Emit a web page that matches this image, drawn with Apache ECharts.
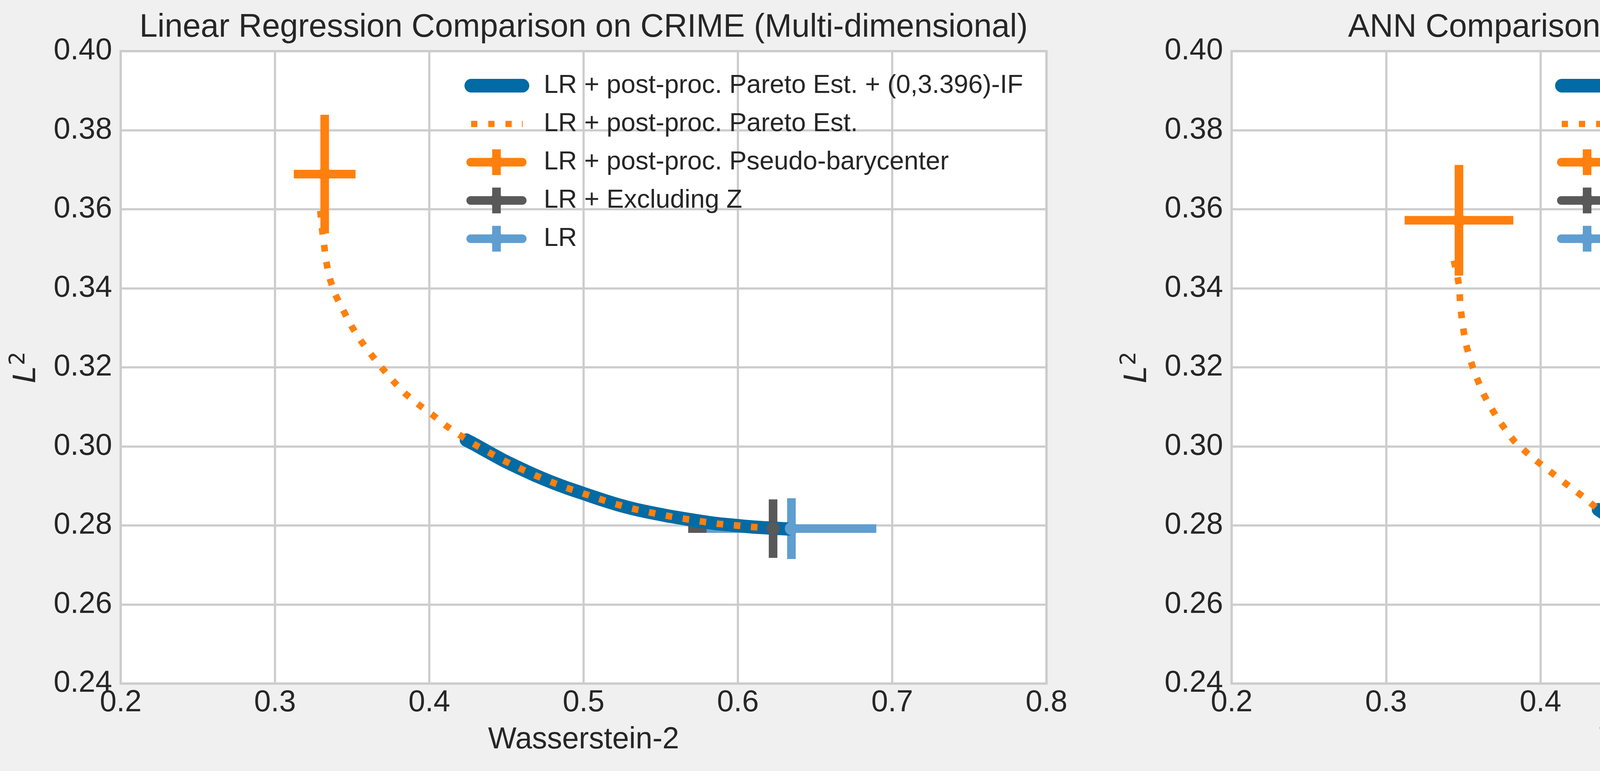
<!DOCTYPE html>
<html>
<head>
<meta charset="utf-8">
<script src="https://cdn.jsdelivr.net/npm/echarts@6.0.0/dist/echarts.min.js"></script>
<style>html,body{margin:0;padding:0;background:#f0f0f0;overflow:hidden;}#chart{width:5621px;height:1975px;}</style>
</head>
<body>
<div id="chart"></div>
<script>
// ---------------- data ----------------
const xTickRange = [0.2, 0.8, 0.1];
const yTickRange = [0.24, 0.40, 0.02];

// Linear regression panel
const lrIfX = [0.4240, 0.4294, 0.4390, 0.4489, 0.4590, 0.4691, 0.4790, 0.4899, 0.5005, 0.5111, 0.5218, 0.5324, 0.5430, 0.5547, 0.5653, 0.5765, 0.5876, 0.5987, 0.6099, 0.6228, 0.6330];
const lrIfY = [0.3016, 0.3005, 0.2984, 0.2963, 0.2944, 0.2926, 0.2910, 0.2894, 0.2880, 0.2866, 0.2853, 0.2842, 0.2833, 0.2824, 0.2817, 0.2810, 0.2804, 0.2800, 0.2796, 0.2793, 0.2791];
const lrParetoX = [0.3294, 0.3305, 0.3318, 0.3332, 0.3355, 0.3390, 0.3435, 0.3495, 0.3555, 0.3620, 0.3690, 0.3765, 0.3840, 0.3930, 0.4020, 0.4106, 0.4200, 0.4294, 0.4390, 0.4489, 0.4590, 0.4691, 0.4790, 0.4899, 0.5005, 0.5111, 0.5218, 0.5324, 0.5430, 0.5547, 0.5653, 0.5765, 0.5876, 0.5987, 0.6099, 0.6228];
const lrParetoY = [0.3596, 0.3550, 0.3510, 0.3468, 0.3425, 0.3385, 0.3350, 0.3305, 0.3268, 0.3234, 0.3200, 0.3166, 0.3135, 0.3106, 0.3080, 0.3053, 0.3028, 0.3005, 0.2984, 0.2963, 0.2944, 0.2926, 0.2910, 0.2894, 0.2880, 0.2866, 0.2853, 0.2842, 0.2833, 0.2824, 0.2817, 0.2810, 0.2804, 0.2800, 0.2796, 0.2793];
// [x, y, xerr, yerr]
const lrPseudo = [0.3322, 0.3689, 0.0200, 0.0150];
const lrExclZ  = [0.6228, 0.2792, 0.0550, 0.0074];
const lrBase   = [0.6347, 0.2792, 0.0550, 0.0077];

// ANN panel
const annIfX = [0.4375, 0.4470, 0.4561, 0.4650, 0.4743, 0.4840, 0.4940, 0.5046, 0.5152, 0.5261, 0.5367, 0.5473, 0.5580, 0.5688, 0.5797, 0.5908, 0.6020, 0.6131, 0.6247, 0.6359, 0.6470, 0.6510];
const annIfY = [0.2840, 0.2815, 0.2792, 0.2771, 0.2750, 0.2730, 0.2711, 0.2692, 0.2676, 0.2661, 0.2648, 0.2636, 0.2625, 0.2616, 0.2608, 0.2601, 0.2596, 0.2592, 0.2587, 0.2584, 0.2582, 0.2581];
const annParetoX = [0.3439, 0.3462, 0.3475, 0.3480, 0.3492, 0.3515, 0.3560, 0.3629, 0.3720, 0.3833, 0.3947, 0.4060, 0.4197, 0.4288, 0.4375, 0.4470, 0.4561, 0.4650, 0.4743, 0.4840, 0.4940, 0.5046, 0.5152, 0.5261, 0.5367, 0.5473, 0.5580, 0.5688, 0.5797, 0.5908, 0.6020, 0.6131, 0.6247, 0.6359, 0.6470];
const annParetoY = [0.3470, 0.3430, 0.3400, 0.3360, 0.3320, 0.3262, 0.3202, 0.3134, 0.3072, 0.3012, 0.2972, 0.2937, 0.2896, 0.2869, 0.2840, 0.2815, 0.2792, 0.2771, 0.2750, 0.2730, 0.2711, 0.2692, 0.2676, 0.2661, 0.2648, 0.2636, 0.2625, 0.2616, 0.2608, 0.2601, 0.2596, 0.2592, 0.2587, 0.2584, 0.2582];
const annPseudo = [0.3472, 0.3572, 0.0352, 0.0140];
const annExclZ  = [0.6475, 0.2610, 0.0628, 0.0096];
const annBase   = [0.6520, 0.2582, 0.0650, 0.0158];

const titles = ['Linear Regression Comparison on CRIME (Multi-dimensional)', 'ANN Comparison on CRIME (Multi-dimensional)'];
const lrNames = ['LR + post-proc. Pareto Est. + (0,3.396)-IF', 'LR + post-proc. Pareto Est.', 'LR + post-proc. Pseudo-barycenter', 'LR + Excluding Z', 'LR'];
const annNames = ['ANN + post-proc. Pareto Est. + (0,4.434)-IF', 'ANN + post-proc. Pareto Est.', 'ANN + post-proc. Pseudo-barycenter', 'ANN + Excluding Z', 'ANN'];

// ---------------- style ----------------
const BLUE = '#006BA4', ORANGE = '#FF800E', GRAY = '#595959', LBLUE = '#5F9ED1';
const TEXT = '#262626';
const FONT = '"Liberation Sans", Arial, Helvetica, sans-serif';

const zip = (xs, ys) => xs.map((x, i) => [x, ys[i]]);

const ICON_BLUE = 'path://M0 0 L0.1 0 L0.1 0.1 Z M165.9 65.9 L166 65.9 L166 66 Z M17 15.5 L149 15.5 A17.5 17.5 0 0 1 149 50.5 L17 50.5 A17.5 17.5 0 0 1 17 15.5 Z';
const ICON_DOT = 'path://M0 0 L0.1 0 L0.1 0.1 Z M165.9 65.9 L166 65.9 L166 66 Z M17 25 L33 25 L33 41 L17 41 Z M61 25 L77 25 L77 41 L61 41 Z M105 25 L121 25 L121 41 L105 41 Z M147 25 L149 25 L149 41 L147 41 Z';
const ICON_ERR = 'path://M0 0 L0.1 0 L0.1 0.1 Z M165.9 65.9 L166 65.9 L166 66 Z M16 22 L148 22 A11 11 0 0 1 148 44 L16 44 A11 11 0 0 1 16 22 Z M71 0 L93 0 L93 66 L71 66 Z M99 33 A17 17 0 1 1 65 33 A17 17 0 1 1 99 33 Z';

function errRender(params, api) {
  const x = api.value(0), y = api.value(1), xe = api.value(2), ye = api.value(3);
  const l = api.coord([x - xe, y]), r = api.coord([x + xe, y]);
  const t = api.coord([x, y + ye]), b = api.coord([x, y - ye]);
  const c = api.visual('color');
  const st = { stroke: c, lineWidth: 22, lineCap: 'butt', fill: null };
  return {
    type: 'group',
    children: [
      { type: 'line', shape: { x1: l[0], y1: l[1], x2: r[0], y2: r[1] }, style: st },
      { type: 'line', shape: { x1: t[0], y1: t[1], x2: b[0], y2: b[1] }, style: st }
    ]
  };
}

function mkX(i) {
  return {
    type: 'value', gridIndex: i, min: xTickRange[0], max: xTickRange[1], interval: xTickRange[2],
    name: 'Wasserstein-2', nameLocation: 'middle', nameGap: 106,
    nameTextStyle: { fontSize: 77, color: TEXT, fontFamily: FONT },
    axisLine: { show: false }, axisTick: { show: false },
    axisLabel: { fontSize: 77, color: TEXT, fontFamily: FONT, margin: 11, formatter: v => v.toFixed(1) },
    splitLine: { show: true, lineStyle: { color: '#cccccc', width: 5.5 } }
  };
}
function mkY(i) {
  return {
    type: 'value', gridIndex: i, min: yTickRange[0], max: yTickRange[1], interval: yTickRange[2],
    name: '{i|L}{s|2}', nameLocation: 'middle', nameGap: 190, nameRotate: 90,
    nameTextStyle: {
      color: TEXT,
      rich: {
        i: { fontSize: 78, fontStyle: 'italic', fontFamily: '"DejaVu Sans"', color: TEXT },
        s: { fontSize: 55, fontFamily: '"DejaVu Sans"', color: TEXT, padding: [0, 0, 44, 2] }
      }
    },
    axisLine: { show: false }, axisTick: { show: false },
    axisLabel: { fontSize: 77, color: TEXT, fontFamily: FONT, margin: 22, formatter: v => v.toFixed(2) },
    splitLine: { show: true, lineStyle: { color: '#cccccc', width: 5.5 } }
  };
}
function mkGrid(left, width) {
  return { left: left, top: 131, width: width, height: 1620, show: true, backgroundColor: '#ffffff',
           borderColor: '#cccccc', borderWidth: 6, containLabel: false, outerBoundsMode: 'none' };
}
function mkLegend(left, names) {
  const icons = [ICON_BLUE, ICON_DOT, ICON_ERR, ICON_ERR, ICON_ERR];
  const cols = [BLUE, ORANGE, ORANGE, GRAY, LBLUE];
  return {
    orient: 'vertical', left: left, top: 186, padding: 0, itemGap: 31, itemWidth: 166, itemHeight: 66,
    selectedMode: false, symbolKeepAspect: false,
    textStyle: { fontSize: 66.5, color: TEXT, fontFamily: FONT, padding: [0, 0, 0, 32], lineHeight: 66 },
    itemStyle: { borderWidth: 0 },
    data: names.map((n, k) => ({ name: n, icon: icons[k], itemStyle: { color: cols[k], borderWidth: 0 } }))
  };
}
function mkSeries(g, names, ifX, ifY, pX, pY, pseudo, excl, base) {
  const ebs = [[pseudo, ORANGE, names[2]], [excl, GRAY, names[3]], [base, LBLUE, names[4]]];
  const out = [
    { type: 'line', name: names[0], xAxisIndex: g, yAxisIndex: g, data: zip(ifX, ifY), symbol: 'none', smooth: 0.15,
      lineStyle: { width: 34, color: BLUE, cap: 'round', join: 'round' }, itemStyle: { color: BLUE }, z: 3, silent: true },
    { type: 'line', name: names[1], xAxisIndex: g, yAxisIndex: g, data: zip(pX, pY), symbol: 'none', smooth: 0.15,
      lineStyle: { width: 17, color: ORANGE, type: [17, 27], cap: 'butt' }, itemStyle: { color: ORANGE }, z: 4, silent: true }
  ];
  ebs.forEach(([d, c, n]) => {
    out.push({ type: 'custom', name: n, xAxisIndex: g, yAxisIndex: g, renderItem: errRender,
               encode: { x: 0, y: 1 }, data: [d], itemStyle: { color: c }, z: 2, silent: true });
  });
  ebs.forEach(([d, c, n]) => {
    out.push({ type: 'scatter', name: n, xAxisIndex: g, yAxisIndex: g, data: [[d[0], d[1]]], symbol: 'circle',
               symbolSize: 34, itemStyle: { color: c, opacity: 1 }, z: 5, silent: true });
  });
  return out;
}

const chart = echarts.init(document.getElementById('chart'), null, { renderer: 'canvas', devicePixelRatio: 1 });
chart.setOption({
  backgroundColor: '#f0f0f0',
  animation: false,
  title: [
    { text: titles[0], left: 1494, top: 30, textAlign: 'center', padding: 0,
      textStyle: { fontSize: 83, fontWeight: 'normal', color: TEXT, fontFamily: FONT } },
    { text: titles[1], left: 4339, top: 30, textAlign: 'center', padding: 0,
      textStyle: { fontSize: 83, fontWeight: 'normal', color: TEXT, fontFamily: FONT } }
  ],
  grid: [mkGrid(309, 2370), mkGrid(3153, 2372)],
  xAxis: [mkX(0), mkX(1)],
  yAxis: [mkY(0), mkY(1)],
  legend: [mkLegend(1189, lrNames), mkLegend(3981, annNames)],
  series: [].concat(
    mkSeries(0, lrNames, lrIfX, lrIfY, lrParetoX, lrParetoY, lrPseudo, lrExclZ, lrBase),
    mkSeries(1, annNames, annIfX, annIfY, annParetoX, annParetoY, annPseudo, annExclZ, annBase)
  )
});
</script>
</body>
</html>
